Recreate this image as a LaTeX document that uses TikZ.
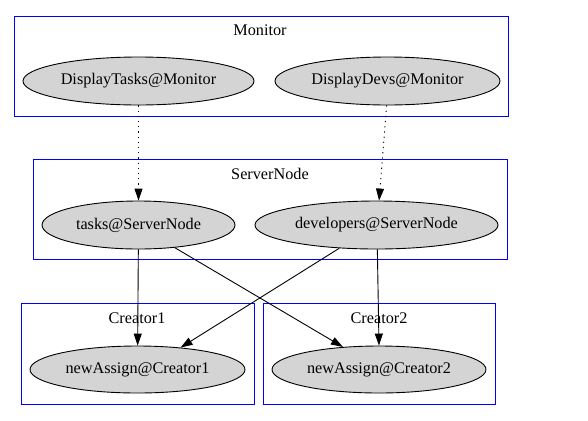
\documentclass[tikz,border=0pt]{standalone}
\usepackage{fontspec}
\setmainfont{Liberation Serif}
\usetikzlibrary{shapes.geometric,arrows.meta}
\begin{document}
\begin{tikzpicture}[x=1bp,y=-1bp,
  cluster/.style={draw=blue,line width=1.2bp},
  clabel/.style={font=\fontsize{16.3}{18}\selectfont,inner sep=0pt},
  proc/.style={ellipse,draw=black,fill=black!17,line width=0.9bp,inner sep=0pt,font=\fontsize{16.3}{18}\selectfont},
  edge/.style={line width=0.9bp,-{Triangle[length=12bp,width=8bp]}},
  dotedge/.style={edge,dash pattern=on 1.2bp off 4bp}]
\useasboundingbox (0,0) rectangle (588,420);
% clusters
\draw[cluster] (14.5,16.5) rectangle (508.5,116.5);
\node[clabel] (lmon) at (260,30) {Monitor};
\draw[cluster] (33.5,159.5) rectangle (507.5,259.5);
\node[clabel] (lsrv) at (270,174) {ServerNode};
\draw[cluster] (21.5,303.5) rectangle (254.5,404.5);
\node[clabel] (lc1) at (137,318) {Creator1};
\draw[cluster] (263.5,303.5) rectangle (495.5,404.5);
\node[clabel] (lc2) at (379,318) {Creator2};
% nodes
\node[proc,minimum width=231bp,minimum height=48bp] (dt) at (138.5,81) {DisplayTasks@Monitor};
\node[proc,minimum width=225bp,minimum height=48bp] (dd) at (387.5,81) {DisplayDevs@Monitor};
\node[proc,minimum width=193bp,minimum height=48bp] (ts) at (138.5,225) {tasks@ServerNode};
\node[proc,minimum width=243bp,minimum height=48bp] (dv) at (376.5,225) {developers@ServerNode};
\node[proc,minimum width=215bp,minimum height=47bp] (n1) at (137.5,369.5) {newAssign@Creator1};
\node[proc,minimum width=214bp,minimum height=47bp] (n2) at (379,369.5) {newAssign@Creator2};
% edges
\draw[dotedge] (dt) -- (ts);
\draw[dotedge] (dd.-92) -- (dv.84);
\draw[edge] (ts) -- (n1);
\draw[edge] (ts.-32) -- (n2.148);
\draw[edge] (dv.-148) -- (n1.27);
\draw[edge] (dv.-88) -- (n2.90);
\end{tikzpicture}
\end{document}
